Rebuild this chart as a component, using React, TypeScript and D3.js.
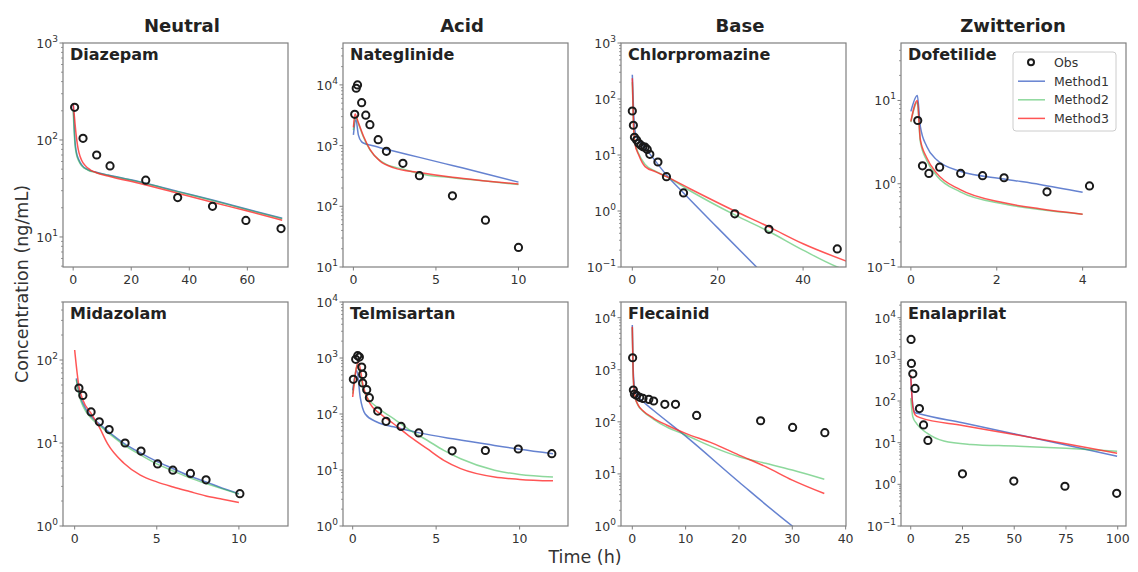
import React from "react";
import * as d3 from "d3";

type P = [number, number];

const CLASSES = ["Neutral", "Acid", "Base", "Zwitterion"];
const LEGEND_LABELS = ["Obs", "Method1", "Method2", "Method3"];
const DRUGS = ["Diazepam", "Nateglinide", "Chlorpromazine", "Dofetilide", "Midazolam", "Telmisartan", "Flecainid", "Enalaprilat"];

// ---------- Diazepam ----------
const diazepamObs: P[] = [[0.5, 217], [3.4, 104], [8.1, 70], [12.7, 54], [25, 38.5], [36, 25.5], [48, 20.7], [59.5, 14.8], [71.6, 12.2]];
const diazepamM1: P[] = [[0, 240], [0.3, 150], [0.6, 100], [1, 78], [2, 62], [3, 55], [5, 49.5], [8, 46.5], [12, 43.5], [24, 36.5], [36, 29.5], [48, 24], [60, 19.3], [72, 15.6]];
const diazepamM2: P[] = [[0, 200], [0.3, 130], [0.6, 92], [1, 74], [2, 60], [3, 54], [5, 49], [8, 46], [12, 43.2], [24, 36.2], [36, 29.2], [48, 23.8], [60, 19.1], [72, 15.4]];
const diazepamM3: P[] = [[0, 240], [0.5, 165], [1, 115], [1.5, 88], [2, 74], [3, 61], [4, 55], [6, 49], [8, 46], [12, 42.5], [24, 35], [36, 28.2], [48, 22.8], [60, 18.5], [72, 14.9]];

// ---------- Nateglinide ----------
const nateglinideObs: P[] = [[0.08, 3280], [0.17, 8800], [0.25, 10000], [0.5, 5100], [0.75, 3170], [1, 2210], [1.5, 1250], [2, 805], [3, 510], [4, 320], [6, 149], [8, 59], [10, 21]];
const nateglinideM1: P[] = [[0, 1500], [0.15, 2700], [0.3, 1500], [0.5, 1150], [0.8, 1050], [1, 1020], [2, 870], [4, 640], [6, 470], [8, 345], [10, 250]];
const nateglinideM2: P[] = [[0, 1800], [0.12, 3000], [0.3, 2300], [0.6, 1400], [1, 850], [1.5, 600], [2, 490], [3, 410], [4, 345], [6, 295], [8, 260], [10, 228]];
const nateglinideM3: P[] = [[0, 2000], [0.1, 3300], [0.3, 2400], [0.6, 1450], [1, 870], [1.6, 560], [2.45, 430], [4, 360], [6, 300], [8, 262], [10, 232]];

// ---------- Chlorpromazine ----------
const chlorpromazineObs: P[] = [[0, 61], [0.25, 34], [0.5, 20.7], [1, 18.5], [1.5, 16.2], [2, 15], [2.5, 14], [3, 13.8], [3.5, 12.6], [4.1, 10.3], [6, 7.5], [8, 4.1], [12, 2.1], [24, 0.89], [32, 0.47], [48, 0.21]];
const chlorpromazineM1: P[] = [[0, 270], [0.3, 60], [0.6, 28], [1, 21], [2, 16.5], [4, 10.7], [8, 4.4], [12, 2.1], [20, 0.5], [30, 0.085]];
const chlorpromazineM2: P[] = [[0, 200], [0.25, 38], [0.6, 17], [1.5, 10.5], [3, 6.8], [5.5, 5.1], [8, 4.1], [13.5, 2.3], [24, 0.85], [32, 0.43], [40, 0.2], [48, 0.1], [50.4, 0.085]];
const chlorpromazineM3: P[] = [[0, 235], [0.25, 40], [0.6, 16], [1.5, 10], [3, 6.2], [5.5, 5.0], [8, 4.1], [13.5, 2.5], [24, 1.0], [32, 0.52], [40, 0.26], [50.4, 0.125]];

// ---------- Dofetilide ----------
const dofetilideObs: P[] = [[0.16, 5.75], [0.27, 1.64], [0.42, 1.33], [0.67, 1.58], [1.16, 1.33], [1.67, 1.25], [2.17, 1.18], [3.17, 0.8], [4.16, 0.94]];
const dofetilideM1: P[] = [[0, 7.4], [0.15, 11.5], [0.22, 4.9], [0.37, 2.8], [0.6, 1.94], [1.15, 1.41], [2.17, 1.14], [3, 0.98], [4, 0.79]];
const dofetilideM2: P[] = [[0, 5.5], [0.15, 9.5], [0.22, 3.2], [0.37, 1.9], [0.6, 1.25], [1.15, 0.8], [2.17, 0.57], [3, 0.49], [4, 0.43]];
const dofetilideM3: P[] = [[0, 5.6], [0.15, 10], [0.22, 3.4], [0.37, 2.05], [0.6, 1.34], [1.15, 0.85], [2.17, 0.59], [3, 0.5], [4, 0.43]];

// ---------- Midazolam ----------
const midazolamObs: P[] = [[0.26, 46], [0.5, 37.4], [1, 23.7], [1.5, 18], [2.1, 14.5], [3.07, 10], [4.04, 8], [5.05, 5.6], [5.98, 4.7], [7.05, 4.3], [8, 3.6], [10.06, 2.45]];
const midazolamM1: P[] = [[0.1, 60], [0.3, 38], [0.5, 30], [1, 21], [1.5, 17], [2, 14], [3, 9.9], [4, 7.6], [5, 6.0], [6, 4.9], [7, 4.0], [8, 3.4], [9, 2.85], [10, 2.45]];
const midazolamM2: P[] = [[0.1, 58], [0.3, 36], [0.5, 28], [1, 20], [1.5, 16.3], [2, 13.5], [3, 9.5], [4, 7.2], [5, 5.6], [6, 4.6], [7, 3.8], [8, 3.25], [9, 2.8], [10, 2.42]];
const midazolamM3: P[] = [[0, 132], [0.26, 48], [0.5, 33], [1, 22.7], [1.5, 15.5], [2, 9.8], [3, 5.7], [4, 4.1], [5, 3.4], [6, 2.95], [7, 2.6], [8, 2.3], [9, 2.1], [10, 1.92]];

// ---------- Telmisartan ----------
const telmisartanObs: P[] = [[0.04, 416], [0.18, 946], [0.3, 1100], [0.4, 1040], [0.54, 690], [0.6, 510], [0.6, 358], [0.84, 272], [1, 196], [1.5, 113], [2, 74], [2.9, 60], [3.96, 46], [5.96, 22], [7.95, 22.3], [9.92, 23.7], [11.93, 19.6]];
const telmisartanM1: P[] = [[0, 265], [0.25, 600], [0.45, 200], [0.75, 100], [1.45, 72], [2.45, 59], [4, 46], [6, 36], [8, 29], [10, 23.5], [12, 19.6]];
const telmisartanM2: P[] = [[0, 230], [0.3, 760], [0.5, 400], [0.74, 230], [1.45, 133], [2.45, 83], [3.45, 51], [4.46, 34], [5.46, 22.4], [6.47, 15.9], [8.5, 9.9], [10, 8.3], [12, 7.5]];
const telmisartanM3: P[] = [[0, 201], [0.34, 850], [0.64, 303], [1.04, 153], [1.65, 101], [2.45, 67], [3.45, 39], [4.46, 24], [5.46, 14.9], [6.47, 10.6], [8.5, 7.5], [10, 6.8], [12, 6.4]];

// ---------- Flecainid ----------
const flecainidObs: P[] = [[0.06, 1700], [0.2, 408], [0.4, 342], [0.8, 323], [1.4, 295], [2, 282], [3.1, 270], [4, 251], [6.1, 217], [8.1, 217], [12.06, 133], [24.06, 105], [30.06, 78], [36.1, 62]];
const flecainidM1: P[] = [[0, 7200], [0.2, 850], [0.5, 410], [1.1, 305], [2, 245], [4, 165], [10, 53], [20, 7], [30, 1], [32, 0.7]];
const flecainidM2: P[] = [[0, 6500], [0.2, 650], [0.5, 300], [1.1, 205], [2, 160], [4, 112], [6.4, 80], [10, 56], [15, 33], [20, 21.4], [25, 16], [30, 11.9], [36, 7.9]];
const flecainidM3: P[] = [[0, 6700], [0.2, 635], [0.5, 304], [1.1, 210], [2, 164], [4, 117], [6.4, 87], [10, 60], [15, 39], [20, 23], [25, 13.8], [30, 7.6], [36, 4.2]];

// ---------- Enalaprilat ----------
const enalaprilatObs: P[] = [[0.16, 3000], [0.33, 800], [1, 450], [2.1, 200], [4.2, 66], [6.2, 26.6], [8.3, 11.3], [25, 1.79], [49.8, 1.2], [74.5, 0.9], [99.5, 0.61]];
const enalaprilatM1: P[] = [[0, 390], [1, 80], [2.1, 53], [4.5, 49], [25, 30], [50, 16.3], [75, 8.8], [99.7, 4.7]];
const enalaprilatM2: P[] = [[0, 117], [1, 42], [3, 28], [7.9, 17], [16, 11], [29, 9.1], [50, 8.3], [75, 7.3], [99.7, 6.2]];
const enalaprilatM3: P[] = [[0, 420], [1, 73], [2.1, 47], [4.5, 40], [25, 26], [50, 15.7], [75, 9.4], [99.7, 5.6]];

// axis limits and ticks
const X_DOMAINS: P[] = [[-3.5, 74], [-0.63, 13.0], [-2.65, 50.05], [-0.23, 5.01], [-0.71, 12.99], [-0.58, 12.9], [-2.12, 40.07], [-4.7, 104]];
const Y_DOMAINS: P[] = [[4.9, 1000], [10, 49000], [0.1, 1000], [0.1, 49], [1, 500], [1, 10000], [1, 20000], [0.1, 23800]];
const X_TICKS: number[][] = [[0, 20, 40, 60], [0, 5, 10], [0, 20, 40], [0, 2, 4], [0, 5, 10], [0, 5, 10], [0, 10, 20, 30, 40], [0, 25, 50, 75, 100]];

const OBS = [diazepamObs, nateglinideObs, chlorpromazineObs, dofetilideObs, midazolamObs, telmisartanObs, flecainidObs, enalaprilatObs];
const M1 = [diazepamM1, nateglinideM1, chlorpromazineM1, dofetilideM1, midazolamM1, telmisartanM1, flecainidM1, enalaprilatM1];
const M2 = [diazepamM2, nateglinideM2, chlorpromazineM2, dofetilideM2, midazolamM2, telmisartanM2, flecainidM2, enalaprilatM2];
const M3 = [diazepamM3, nateglinideM3, chlorpromazineM3, dofetilideM3, midazolamM3, telmisartanM3, flecainidM3, enalaprilatM3];

// layout
const W = 1138, H = 572;
const COL_LEFT = [63, 343, 621, 901];
const ROW_TOP = [43, 302];
const PW = 225, PH = 224;
const TITLE_X = [182, 462, 740, 1013];
const COLORS = ["#3f63c4", "#2fb84a", "#ff2a2a"];
const OPAC = [0.8, 0.55, 0.8];
const FONT = "DejaVu Sans, sans-serif";
const SPINE = "#7f7f7f";
const TXT = "#333";

function sup(e: number) {
  return e < 0 ? "\u2212" + Math.abs(e) : String(e);
}

function Panel({ i }: { i: number }) {
  const col = i % 4, row = Math.floor(i / 4);
  const left = COL_LEFT[col], top = ROW_TOP[row];
  const x = d3.scaleLinear().domain(X_DOMAINS[i]).range([left, left + PW]);
  const y = d3.scaleLog().domain(Y_DOMAINS[i]).range([top + PH, top]);
  const [y0, y1] = Y_DOMAINS[i];
  const majors: number[] = [];
  const minors: number[] = [];
  for (let k = Math.floor(Math.log10(y0)) - 1; k <= Math.ceil(Math.log10(y1)); k++) {
    const v = Math.pow(10, k);
    if (v >= y0 * 0.999 && v <= y1 * 1.001) majors.push(k);
    for (let m = 2; m <= 9; m++) {
      const mv = m * v;
      if (mv >= y0 && mv <= y1) minors.push(mv);
    }
  }
  const line = d3.line<P>().x(d => x(d[0])).y(d => y(d[1])).curve(d3.curveMonotoneX);
  const clipId = `clip${i}`;
  const series = [M1[i], M2[i], M3[i]];
  return (
    <g>
      <defs>
        <clipPath id={clipId}>
          <rect x={left} y={top} width={PW} height={PH} />
        </clipPath>
      </defs>
      <g clipPath={`url(#${clipId})`}>
        {series.map((s, j) => (
          <path key={j} d={line(s) || ""} fill="none" stroke={COLORS[j]} strokeOpacity={OPAC[j]} strokeWidth={1.5} />
        ))}
        {OBS[i].map((d, j) => (
          <circle key={j} cx={x(d[0])} cy={y(d[1])} r={3.6} fill="none" stroke="#1a1a1a" strokeWidth={2} />
        ))}
      </g>
      <rect x={left} y={top} width={PW} height={PH} fill="none" stroke={SPINE} strokeWidth={1.2} />
      {minors.map((v, j) => (
        <line key={"mn" + j} x1={left} x2={left - 2} y1={y(v)} y2={y(v)} stroke={SPINE} strokeWidth={0.8} />
      ))}
      {majors.map(k => (
        <g key={"mj" + k}>
          <line x1={left} x2={left - 3.5} y1={y(Math.pow(10, k))} y2={y(Math.pow(10, k))} stroke={SPINE} strokeWidth={1} />
          <text x={left - 5} y={y(Math.pow(10, k)) + 5} textAnchor="end" fontFamily={FONT} fontSize={12.5} fill={TXT}>
            <tspan>10</tspan>
            <tspan dy={-6} fontSize={9}>{sup(k)}</tspan>
          </text>
        </g>
      ))}
      {X_TICKS[i].map(t => (
        <g key={"xt" + t}>
          <line x1={x(t)} x2={x(t)} y1={top + PH} y2={top + PH + 3.5} stroke={SPINE} strokeWidth={1} />
          <text x={x(t)} y={top + PH + 17} textAnchor="middle" fontFamily={FONT} fontSize={12.5} fill={TXT}>{t}</text>
        </g>
      ))}
      <text x={left + 7} y={top + 17} fontFamily={FONT} fontWeight="bold" fontSize={16} fill="#222">{DRUGS[i]}</text>
    </g>
  );
}

function Legend() {
  const lx = 1013, ly = 52, lw = 103, lh = 79;
  const rows = [62.3, 81.2, 99.8, 118.4];
  return (
    <g>
      <rect x={lx} y={ly} width={lw} height={lh} rx={3} fill="#fff" fillOpacity={0.8} stroke="#cccccc" strokeWidth={1} />
      {LEGEND_LABELS.map((lab, j) => (
        <g key={lab}>
          {j === 0 ? (
            <circle cx={1031} cy={rows[j]} r={3} fill="none" stroke="#1a1a1a" strokeWidth={2} />
          ) : (
            <line x1={1018} x2={1045} y1={rows[j]} y2={rows[j]} stroke={COLORS[j - 1]} strokeOpacity={OPAC[j - 1]} strokeWidth={1.5} />
          )}
          <text x={1054} y={rows[j] + 4.5} fontFamily={FONT} fontSize={12.5} fill={TXT}>{lab}</text>
        </g>
      ))}
    </g>
  );
}

export default function App() {
  return (
    <svg width={W} height={H} style={{ position: "absolute", left: 0, top: 0, background: "#fff" }}>
      <rect x={0} y={0} width={W} height={H} fill="#fff" />
      {CLASSES.map((c, j) => (
        <text key={c} x={TITLE_X[j]} y={32} textAnchor="middle" fontFamily={FONT} fontWeight="bold" fontSize={18} fill="#222">{c}</text>
      ))}
      {DRUGS.map((_, i) => <Panel key={i} i={i} />)}
      <Legend />
      <text x={585} y={563} textAnchor="middle" fontFamily={FONT} fontSize={17.5} fill={TXT}>Time (h)</text>
      <text transform="translate(28,284) rotate(-90)" textAnchor="middle" fontFamily={FONT} fontSize={17.5} fill={TXT}>Concentration (ng/mL)</text>
    </svg>
  );
}
